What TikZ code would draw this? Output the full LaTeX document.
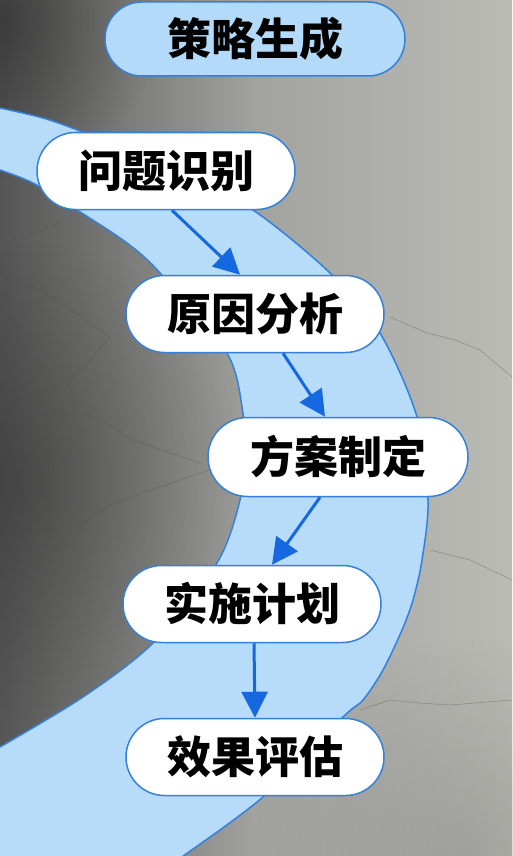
\documentclass[tikz,border=0pt]{standalone}
\usepackage{fontspec}
\newfontfamily\cjk{Noto Sans CJK SC}
\usetikzlibrary{shapes.misc,arrows.meta,fadings}
\definecolor{bandblue}{HTML}{B6DCF9}
\definecolor{titleblue}{HTML}{B3DAF8}
\definecolor{edgeblue}{HTML}{3580DA}
\definecolor{arrowblue}{HTML}{1668E0}
\definecolor{bgdark}{HTML}{555555}
\definecolor{bgmid}{HTML}{A2A29F}
\definecolor{bglight}{HTML}{BBBBB6}
\definecolor{crack}{HTML}{4A4A45}
\tikzfading[name=fuzzy, inner color=transparent!0, outer color=transparent!100]
\begin{document}
\begin{tikzpicture}[x=1pt,y=-1pt,
  pill/.style={rounded rectangle, draw=edgeblue, line width=1.5pt, fill=white,
    minimum width=258pt, minimum height=77pt, inner sep=0pt,
    font=\cjk\bfseries\fontsize{44}{48}\selectfont},
  arr/.style={draw=arrowblue, line width=3pt, -{Triangle[length=26pt,width=26pt]}},
  crackline/.style={draw=crack, line width=0.5pt, opacity=0.4}]
\useasboundingbox (0,0) rectangle (512,856);
\shade[left color=bgdark, right color=bglight, middle color=bgmid] (0,0) rectangle (512,856);
\fill[black, opacity=0.22, path fading=fuzzy] (20,480) circle (240);
\fill[black, opacity=0.3, path fading=fuzzy] (0,20) circle (160);
\fill[black, opacity=0.12, path fading=fuzzy] (470,856) circle (220);
\draw[crackline] (0,273) -- (30,285) -- (67,307) -- (110,337) -- (90,360) -- (67,383) -- (77,410) -- (105,422) -- (133,440) -- (200,463);
\draw[crackline] (0,537) -- (40,530) -- (77,527) -- (110,505) -- (143,493) -- (217,467);
\draw[crackline] (0,245) -- (35,232) -- (62,222);
\draw[crackline] (390,317) -- (427,333) -- (455,340) -- (480,350) -- (512,377);
\draw[crackline] (430,550) -- (470,560) -- (512,580);
\draw[crackline] (360,710) -- (390,700) -- (420,703) -- (450,705) -- (512,700);
\fill[bandblue] plot[smooth] coordinates {(0,108) (43,118) (83,132) (170,165) (253,210)
    (330,273) (380,333) (417,417) (428,500) (422,560) (413,600) (402,630) (383,670)
    (363,700) (343,717) (263,797) (183,856)}
  -- (0,856)
  -- plot[smooth] coordinates {(0,747) (83,697) (153,643) (217,563) (240,500) (245,450)
    (243,413) (227,353) (160,273) (127,243) (77,210) (33,183) (0,170)}
  -- cycle;
\draw[edgeblue, line width=1.5pt] plot[smooth] coordinates {(0,108) (43,118) (83,132)
    (170,165) (253,210) (330,273) (380,333) (417,417) (428,500) (422,560) (413,600)
    (402,630) (383,670) (363,700) (343,717) (263,797) (183,856)};
\draw[edgeblue, line width=1.5pt] plot[smooth] coordinates {(0,747) (83,697) (153,643)
    (217,563) (240,500) (245,450) (243,413) (227,353) (160,273) (127,243) (77,210)
    (33,183) (0,170)};
\node[pill, fill=titleblue, minimum width=300pt, minimum height=74pt] (T) at (255,39) {策略生成};
\node[pill] (A) at (166,171) {问题识别};
\node[pill] (B) at (255,314) {原因分析};
\node[pill, minimum width=260pt, minimum height=79pt] (C) at (338,457) {方案制定};
\node[pill] (D) at (252,604) {实施计划};
\node[pill] (E) at (255,757) {效果评估};
\foreach \a/\b/\s/\t in {A/B/6/-15, B/C/28/-13, C/D/-18/20, D/E/2/0}
  \draw[arr] ([xshift=\s pt]\a.south) -- ([xshift=\t pt]\b.north);
\end{tikzpicture}
\end{document}
